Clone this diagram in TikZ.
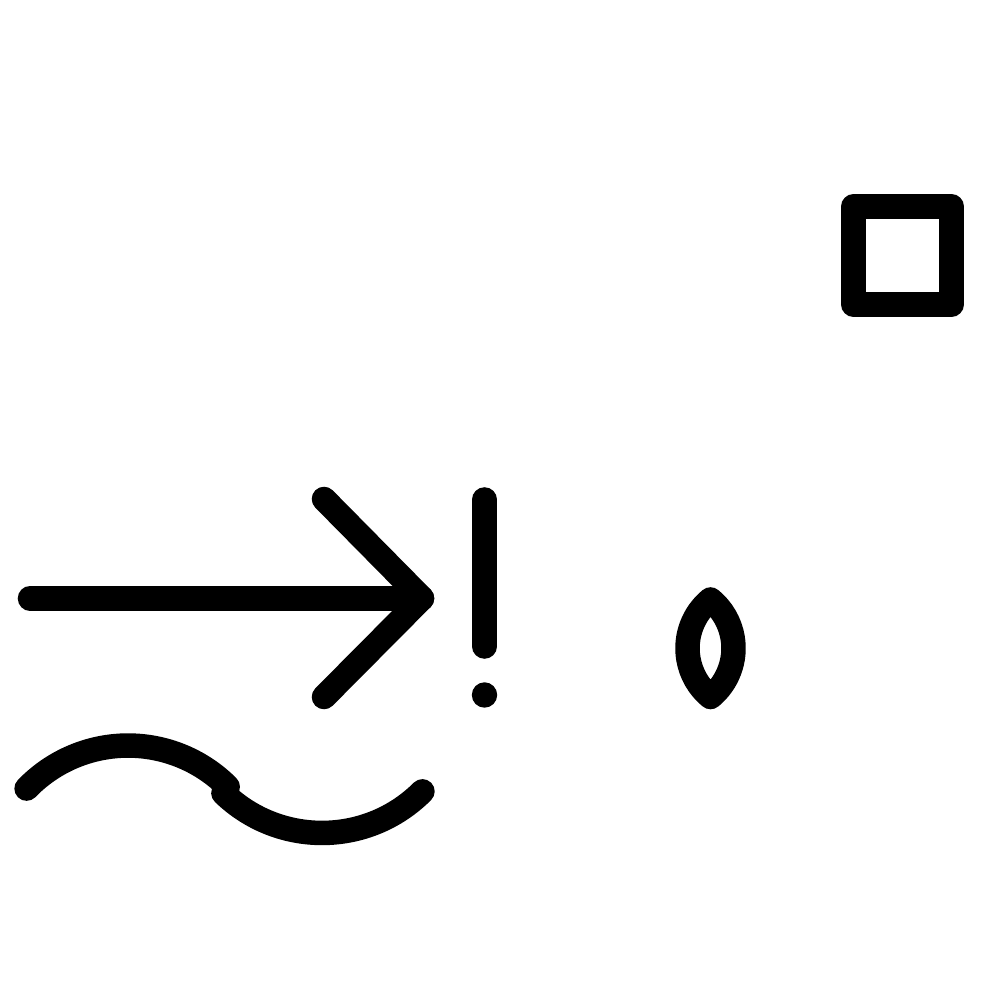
\documentclass[tikz,border=0pt]{standalone}
\usepackage{tikz}
\usetikzlibrary{calc}

\begin{document}
\begin{tikzpicture}[x=0.01cm, y=0.01cm]
		\tikzstyle{stroke} = [draw=black, line width=0.245cm, line cap=round, line join=round]
		\tikzstyle{dotfill} = [fill=black]

		\useasboundingbox (0, 0) rectangle (981, 1000);

		% arrow
		\coordinate (tail)	at (30, 401.7);
		\coordinate (tip)	at (422, 401.7);
		\coordinate (armup)	at (324, 501);
		\coordinate (armdn)	at (324, 303);
		\draw [stroke] (tail) -- (tip);
		\draw [stroke] (armup) -- (tip) -- (armdn);

		% exclamation mark
		\coordinate (bartop)	at (484.5, 500.5);
		\coordinate (barbot)	at (484.5, 353.5);
		\draw [stroke] (bartop) -- (barbot);
		\fill [dotfill] (484.5, 305) circle (12.7);

		% lens
		\coordinate (lenstop)	at (710.5, 400.5);
		\coordinate (lensbot)	at (710.5, 303);
		\draw [stroke] (lenstop) arc[start angle=129.5, end angle=230.5, radius=63.2]
			arc[start angle=-50.5, end angle=50.5, radius=63.2] -- cycle;

		% square
		\coordinate (sqa)	at (853.5, 695.5);
		\coordinate (sqb)	at (951.5, 793.5);
		\draw [stroke] (sqa) rectangle (sqb);

		% wave
		\coordinate (wavea)	at (26.6, 211.4);
		\coordinate (waveb)	at (223.4, 206.9);
		\draw [stroke] (wavea) arc[start angle=136, end angle=45, radius=141];
		\draw [stroke] (waveb) arc[start angle=226, end angle=315, radius=142];
	\end{tikzpicture}
\end{document}
